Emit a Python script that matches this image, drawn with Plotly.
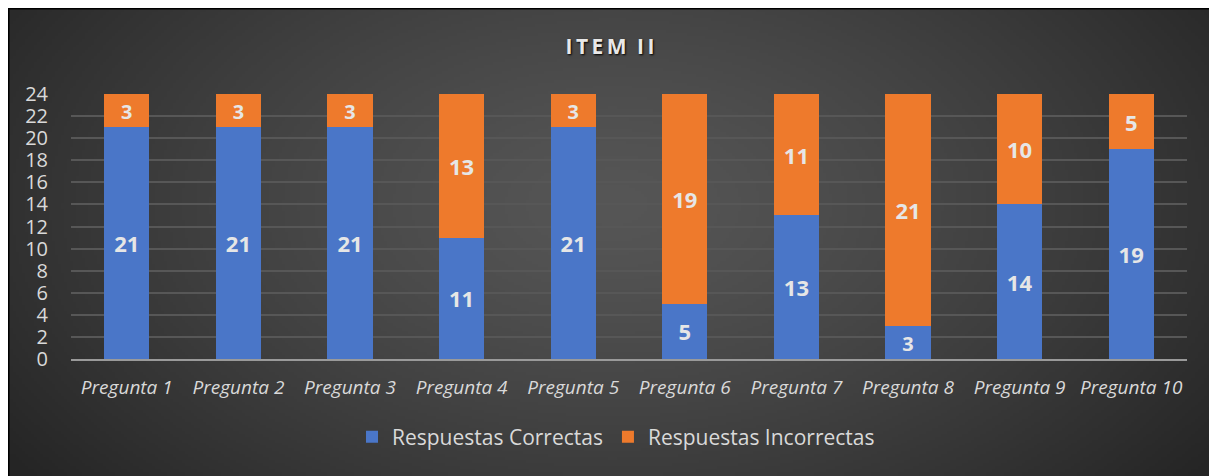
import base64, struct, zlib
import numpy as np
import plotly.graph_objects as go

categories = ["Pregunta 1", "Pregunta 2", "Pregunta 3", "Pregunta 4", "Pregunta 5",
              "Pregunta 6", "Pregunta 7", "Pregunta 8", "Pregunta 9", "Pregunta 10"]
correctas = [21, 21, 21, 11, 21, 5, 13, 3, 14, 19]
incorrectas = [3, 3, 3, 13, 3, 19, 11, 21, 10, 5]
y_ticks = list(range(0, 25, 2))

OFF = 8  # page body margin
W, H = 1217 - OFF, 476 - OFF
# plot area in reference pixels: x 71..1187, y 94..359
L = 71 - OFF
T = 94 - OFF
R = W - (1187 - OFF)
B = H - (359 - OFF)
PW, PH = W - L - R, H - T - B


def px(x):
    return (x - OFF - L) / PW


def py(y):
    return (H - B - (y - OFF)) / PH


def make_png(arr):
    h, w, _ = arr.shape
    raw = b"".join(b"\x00" + arr[i].tobytes() for i in range(h))

    def chunk(tag, data):
        c = struct.pack(">I", len(data)) + tag + data
        return c + struct.pack(">I", zlib.crc32(tag + data) & 0xffffffff)

    return (b"\x89PNG\r\n\x1a\n" + chunk(b"IHDR", struct.pack(">IIBBBBB", w, h, 8, 2, 0, 0, 0))
            + chunk(b"IDAT", zlib.compress(raw, 9)) + chunk(b"IEND", b""))


gw, gh = 400, 160
xx, yy = np.meshgrid(np.linspace(0, 1, gw), np.linspace(0, 1, gh))
d = np.sqrt(((xx - 0.5) / 0.62) ** 2 + ((yy - 0.42) / 0.95) ** 2)
d = np.clip(d, 0, 1)
val = 0x56 - (0x56 - 0x25) * d ** 1.3
img = np.repeat(val[:, :, None], 3, axis=2).astype(np.uint8)
bg_uri = "data:image/png;base64," + base64.b64encode(make_png(img)).decode()

FONT = "Open Sans"
TXT = "#d9d9d9"

fig = go.Figure()
fig.add_trace(go.Bar(
    x=categories, y=correctas, name="Respuestas Correctas",
    marker=dict(color="#4a76c8", line=dict(width=0)),
    text=correctas, textposition="inside", insidetextanchor="middle",
    textfont=dict(family=FONT, size=22, color="#e6e6e6", weight="bold"),
    textangle=0,
))
fig.add_trace(go.Bar(
    x=categories, y=incorrectas, name="Respuestas Incorrectas",
    marker=dict(color="#ee7a2c", line=dict(width=0)),
    text=incorrectas, textposition="inside", insidetextanchor="middle",
    textfont=dict(family=FONT, size=22, color="#e6e6e6", weight="bold"),
    textangle=0,
))

fig.update_layout(
    width=W, height=H,
    margin=dict(l=L, r=R, t=T, b=B, autoexpand=False),
    barmode="stack", bargap=0.595,
    paper_bgcolor="white", plot_bgcolor="rgba(0,0,0,0)",
    font=dict(family=FONT, color=TXT),
    title=dict(text="I\u2009T\u2009E\u2009M\u2009\u2009\u2009I\u2009I", x=(610 - OFF) / W, xanchor="center",
               xref="container", y=1 - (47 - OFF) / H, yanchor="middle", yref="container",
               font=dict(family=FONT, size=21, color="#e8e8e8", weight="bold",
                         shadow="1px 1px 2px #000000")),
    showlegend=True,
    legend=dict(orientation="h", xref="container", yref="container",
                x=(616 - OFF) / W, xanchor="center", y=(476 - 437) / H, yanchor="middle",
                font=dict(family=FONT, size=21, color=TXT), traceorder="normal",
                bgcolor="rgba(0,0,0,0)"),
    xaxis=dict(showgrid=False, showline=True, linecolor="#9a9a9a", linewidth=2,
               ticks="", tickfont=dict(family=FONT, size=19, color=TXT, style="italic"),
               ticklabelstandoff=10),
    yaxis=dict(range=[0, 24], tickvals=y_ticks, showgrid=True, gridcolor="#575757",
               gridwidth=1.5, zeroline=False, showline=False, ticks="",
               tickfont=dict(family=FONT, size=20, color=TXT), ticklabelstandoff=22),
    images=[dict(source=bg_uri, xref="paper", yref="paper", x=px(OFF), y=py(OFF),
                 sizex=W / PW, sizey=H / PH, xanchor="left", yanchor="top",
                 sizing="stretch", layer="below")],
    shapes=[dict(type="rect", xref="paper", yref="paper", x0=px(OFF), x1=px(1216),
                 y0=py(480), y1=py(OFF), line=dict(color="black", width=3),
                 fillcolor="rgba(0,0,0,0)", layer="above")],
)

fig.write_html("out.html")
